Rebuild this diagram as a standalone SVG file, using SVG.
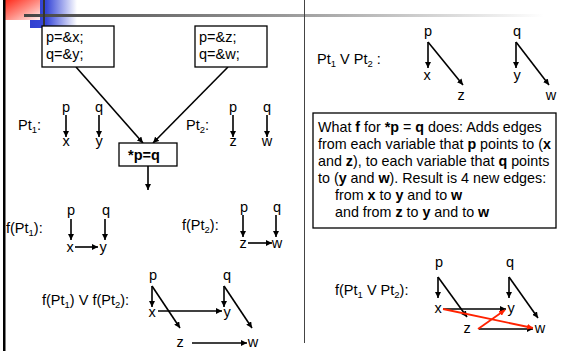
<svg xmlns="http://www.w3.org/2000/svg" width="566" height="351" viewBox="0 0 566 351">
<defs>
<linearGradient id="gRed" x1="0" y1="0" x2="1" y2="1">
<stop offset="0" stop-color="#ff2a1a"/><stop offset="0.5" stop-color="#ff8a80"/><stop offset="1" stop-color="#fff0f0"/>
</linearGradient>
<linearGradient id="gBlue" x1="0" y1="0" x2="1" y2="0">
<stop offset="0" stop-color="#3040d0"/><stop offset="0.35" stop-color="#3848d8"/><stop offset="1" stop-color="#ffffff"/>
</linearGradient>
<linearGradient id="gGray" x1="0" y1="0" x2="1" y2="0">
<stop offset="0" stop-color="#444"/><stop offset="0.5" stop-color="#999"/><stop offset="1" stop-color="#fff"/>
</linearGradient>
<marker id="ah" viewBox="0 0 10 10" refX="10" refY="5" markerWidth="6" markerHeight="6" markerUnits="userSpaceOnUse" orient="auto">
<path d="M0,0 L10,5 L0,10 z" fill="#000"/>
</marker>
<marker id="ahr" viewBox="0 0 10 10" refX="10" refY="5" markerWidth="6" markerHeight="6" markerUnits="userSpaceOnUse" orient="auto">
<path d="M0,0 L10,5 L0,10 z" fill="#ff2200"/>
</marker>
</defs>
<style>
text{font-family:"Liberation Sans",Arial,sans-serif;font-size:14.5px;fill:#000}
.t{font-size:14.3px}
.c{text-anchor:middle}
.b{font-weight:bold}
.sub{font-size:9.5px}
.box{fill:#fff;stroke:#000;stroke-width:1.3}
.e{stroke:#000;stroke-width:1.6;fill:none;marker-end:url(#ah)}
.r{stroke:#ff2200;stroke-width:1.8;fill:none;marker-end:url(#ahr)}
</style>
<rect width="566" height="351" fill="#fff"/>
<g id="decor">
<rect x="30" y="0" width="47" height="28" fill="url(#gBlue)"/>
<rect x="5" y="0" width="35" height="20" fill="url(#gRed)"/>
<rect x="24" y="14" width="520" height="3" fill="url(#gGray)"/>
<rect x="43" y="0" width="2" height="30" fill="#333"/>
<rect x="3" y="0" width="2.5" height="351" fill="#000"/>
<rect x="304" y="0" width="1" height="343" fill="#444"/>
</g>
<g id="connectors">
<line class="e" x1="76" y1="67" x2="143" y2="143"/>
<line class="e" x1="228" y1="67" x2="153" y2="143"/>
<line class="e" x1="148" y1="166" x2="148" y2="190"/>
<line class="e" x1="66" y1="115" x2="66" y2="137"/>
<line class="e" x1="99" y1="115" x2="99" y2="137"/>
<line class="e" x1="233" y1="115" x2="233" y2="137"/>
<line class="e" x1="267" y1="115" x2="267" y2="137"/>
<line class="e" x1="71" y1="219" x2="71" y2="240"/>
<line class="e" x1="105" y1="219" x2="105" y2="240"/>
<line class="e" x1="75" y1="247" x2="98" y2="247"/>
<line class="e" x1="243" y1="215" x2="243" y2="237"/>
<line class="e" x1="276" y1="215" x2="276" y2="237"/>
<line class="e" x1="248" y1="243" x2="272" y2="243"/>
<line class="e" x1="152" y1="286" x2="152" y2="307"/>
<line class="e" x1="152" y1="286" x2="180" y2="328"/>
<line class="e" x1="224" y1="286" x2="224" y2="307"/>
<line class="e" x1="224" y1="286" x2="252" y2="328"/>
<line class="e" x1="158" y1="311" x2="222" y2="311"/>
<line class="e" x1="192" y1="343" x2="247" y2="343"/>
<line class="e" x1="428" y1="42" x2="428" y2="68"/>
<line class="e" x1="428" y1="42" x2="463" y2="85"/>
<line class="e" x1="516" y1="42" x2="516" y2="68"/>
<line class="e" x1="516" y1="42" x2="549" y2="85"/>
<line class="e" x1="438" y1="277" x2="438" y2="298"/>
<line class="e" x1="438" y1="277" x2="467" y2="317"/>
<line class="e" x1="509" y1="277" x2="509" y2="298"/>
<line class="e" x1="509" y1="277" x2="538" y2="318"/>
<line class="e" x1="443" y1="309" x2="506" y2="309"/>
<line class="e" x1="479" y1="329" x2="533" y2="329"/>
<line class="r" x1="443" y1="309" x2="533" y2="328"/>
<line class="r" x1="478" y1="329" x2="505" y2="310"/>
</g>
<g id="box1"><rect class="box" x="42" y="26" width="72" height="41"/><text x="46" y="42">p=&amp;x;</text><text x="46" y="59">q=&amp;y;</text></g>
<g id="box2"><rect class="box" x="195" y="26" width="72" height="41"/><text x="199" y="42">p=&amp;z;</text><text x="199" y="59">q=&amp;w;</text></g>
<g id="box3"><rect class="box" x="119" y="143" width="58" height="23"/><text class="b" x="128" y="160">*p=q</text></g>
<g id="pt1">
<text x="18" y="130">Pt<tspan class="sub" dy="3">1</tspan><tspan dy="-3">:</tspan></text>
<text class="c" x="66" y="112">p</text><text class="c" x="99" y="112">q</text>
<text class="c" x="66" y="146">x</text><text class="c" x="99" y="146">y</text>
</g>
<g id="pt2">
<text x="186" y="130">Pt<tspan class="sub" dy="3">2</tspan><tspan dy="-3">:</tspan></text>
<text class="c" x="233" y="112">p</text><text class="c" x="267" y="112">q</text>
<text class="c" x="233" y="146">z</text><text class="c" x="267" y="146">w</text>
</g>
<g id="fpt1">
<text x="6" y="233">f(Pt<tspan class="sub" dy="3">1</tspan><tspan dy="-3">):</tspan></text>
<text class="c" x="71" y="215">p</text><text class="c" x="106" y="215">q</text>
<text class="c" x="70" y="252">x</text><text class="c" x="103" y="252">y</text>
</g>
<g id="fpt2">
<text x="182" y="230">f(Pt<tspan class="sub" dy="3">2</tspan><tspan dy="-3">):</tspan></text>
<text class="c" x="244" y="212">p</text><text class="c" x="277" y="212">q</text>
<text class="c" x="243" y="248">z</text><text class="c" x="277" y="248">w</text>
</g>
<g id="fjoin">
<text x="42" y="305">f(Pt<tspan class="sub" dy="3">1</tspan><tspan dy="-3">) V f(Pt</tspan><tspan class="sub" dy="3">2</tspan><tspan dy="-3">):</tspan></text>
<text class="c" x="153" y="280">p</text><text class="c" x="227" y="280">q</text>
<text class="c" x="152" y="317">x</text><text class="c" x="227" y="317">y</text>
<text class="c" x="180" y="347">z</text><text class="c" x="253" y="347">w</text>
</g>
<g id="join">
<text x="317" y="64">Pt<tspan class="sub" dy="3">1</tspan><tspan dy="-3"> V Pt</tspan><tspan class="sub" dy="3">2</tspan><tspan dy="-3"> :</tspan></text>
<text class="c" x="428" y="36">p</text><text class="c" x="517" y="36">q</text>
<text class="c" x="427" y="80">x</text><text class="c" x="517" y="80">y</text>
<text class="c" x="461" y="100">z</text><text class="c" x="551" y="100">w</text>
</g>
<g id="explain">
<rect class="box" x="313" y="113" width="243" height="115"/>
<text class="t" x="318" y="132">What <tspan class="b">f</tspan> for <tspan class="b">*p</tspan> = <tspan class="b">q</tspan> does: Adds edges</text>
<text class="t" x="318" y="149">from each variable that <tspan class="b">p</tspan> points to (<tspan class="b">x</tspan></text>
<text class="t" x="318" y="166">and <tspan class="b">z</tspan>), to each variable that <tspan class="b">q</tspan> points</text>
<text class="t" x="318" y="183">to (<tspan class="b">y</tspan> and <tspan class="b">w</tspan>). Result is 4 new edges:</text>
<text class="t" x="335" y="200">from <tspan class="b">x</tspan> to <tspan class="b">y</tspan> and to <tspan class="b">w</tspan></text>
<text class="t" x="335" y="217">and from <tspan class="b">z</tspan> to <tspan class="b">y</tspan> and to <tspan class="b">w</tspan></text>
</g>
<g id="fjoin2">
<text x="335" y="295">f(Pt<tspan class="sub" dy="3">1</tspan><tspan dy="-3"> V Pt</tspan><tspan class="sub" dy="3">2</tspan><tspan dy="-3">):</tspan></text>
<text class="c" x="439" y="267">p</text><text class="c" x="510" y="267">q</text>
<text class="c" x="438" y="313">x</text><text class="c" x="511" y="313">y</text>
<text class="c" x="467" y="333">z</text><text class="c" x="540" y="333">w</text>
</g>
</svg>
